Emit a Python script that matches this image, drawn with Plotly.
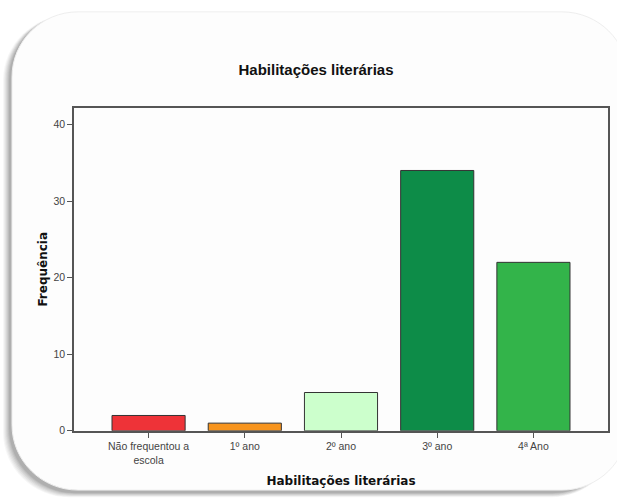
import plotly.graph_objects as go

categories = ["Não frequentou a<br>escola", "1º ano", "2º ano", "3º ano", "4ª Ano"]
frequencies = [2, 1, 5, 34, 22]
bar_colors = ["#EE3338", "#F7941D", "#CCFFCC", "#0D8C48", "#33B44A"]
y_ticks = [0, 10, 20, 30, 40]

W, H = 617, 502

def px(x):
    return x / W

def py(y):
    return 1 - y / H

def rounded_rect(x0, y0, x1, y1, r):
    k = 0.5523
    p = f"M {px(x0 + r)},{py(y0)} L {px(x1 - r)},{py(y0)} "
    p += f"C {px(x1 - r + k*r)},{py(y0)} {px(x1)},{py(y0 + r - k*r)} {px(x1)},{py(y0 + r)} "
    p += f"L {px(x1)},{py(y1 - r)} "
    p += f"C {px(x1)},{py(y1 - r + k*r)} {px(x1 - r + k*r)},{py(y1)} {px(x1 - r)},{py(y1)} "
    p += f"L {px(x0 + r)},{py(y1)} "
    p += f"C {px(x0 + r - k*r)},{py(y1)} {px(x0)},{py(y1 - r + k*r)} {px(x0)},{py(y1 - r)} "
    p += f"L {px(x0)},{py(y0 + r)} "
    p += f"C {px(x0)},{py(y0 + r - k*r)} {px(x0 + r - k*r)},{py(y0)} {px(x0 + r)},{py(y0)} Z"
    return p

shapes = []
# soft shadow layers (offset left/down)
for i, op in enumerate([0.04, 0.05, 0.06, 0.07, 0.08, 0.09, 0.10]):
    d = 9 - i
    shapes.append(dict(type="path", xref="paper", yref="paper",
                       path=rounded_rect(12 - d, 14 + d * 0.2, 620 - d * 0.3, 497 + d * 0.7, 66),
                       fillcolor=f"rgba(60,60,60,{op})", line=dict(width=0), layer="below"))
shapes.append(dict(type="path", xref="paper", yref="paper",
                   path=rounded_rect(12, 12, 628, 496, 66),
                   fillcolor="#FDFDFD", line=dict(color="#EEEEEE", width=1), layer="below"))

axis_title_font = dict(family="DejaVu Sans, Verdana, sans-serif", size=12, color="#111111")

fig = go.Figure()
fig.add_trace(go.Bar(
    x=categories, y=frequencies,
    marker=dict(color=bar_colors, line=dict(color="#333333", width=1)),
    width=0.76,
))

fig.update_layout(
    width=W, height=H,
    margin=dict(l=0, r=0, t=0, b=0),
    paper_bgcolor="white",
    plot_bgcolor="#FDFDFD",
    showlegend=False,
    shapes=shapes,
    font=dict(family="Arial, Liberation Sans, sans-serif", color="#222222"),
    title=dict(text="<b>Habilitações literárias</b>", x=px(316), xanchor="center",
               y=py(70), yanchor="middle",
               font=dict(family="Arial, Liberation Sans, sans-serif", size=15, color="#111111")),
    xaxis=dict(
        domain=[px(74), px(608)],
        range=[-0.775, 4.775],
        showline=True, linecolor="#555555", linewidth=1.5, mirror=True,
        ticks="outside", ticklen=5, tickcolor="#555555",
        tickfont=dict(size=10.5, color="#444444"),
        showgrid=False, zeroline=False,
        title=dict(text="<b>Habilitações literárias</b>", font=axis_title_font, standoff=12),
        anchor="y",
    ),
    yaxis=dict(
        domain=[py(436), py(109)],
        range=[0, 42.2],
        tickvals=y_ticks,
        showline=True, linecolor="#555555", linewidth=1.5, mirror=True,
        ticks="outside", ticklen=5, tickcolor="#555555",
        tickfont=dict(size=10.5, color="#444444"),
        showgrid=False, zeroline=False,
        title=dict(text="<b>Frequência</b>", font=axis_title_font, standoff=3),
        anchor="x",
    ),
)

fig.write_html("out.html")
